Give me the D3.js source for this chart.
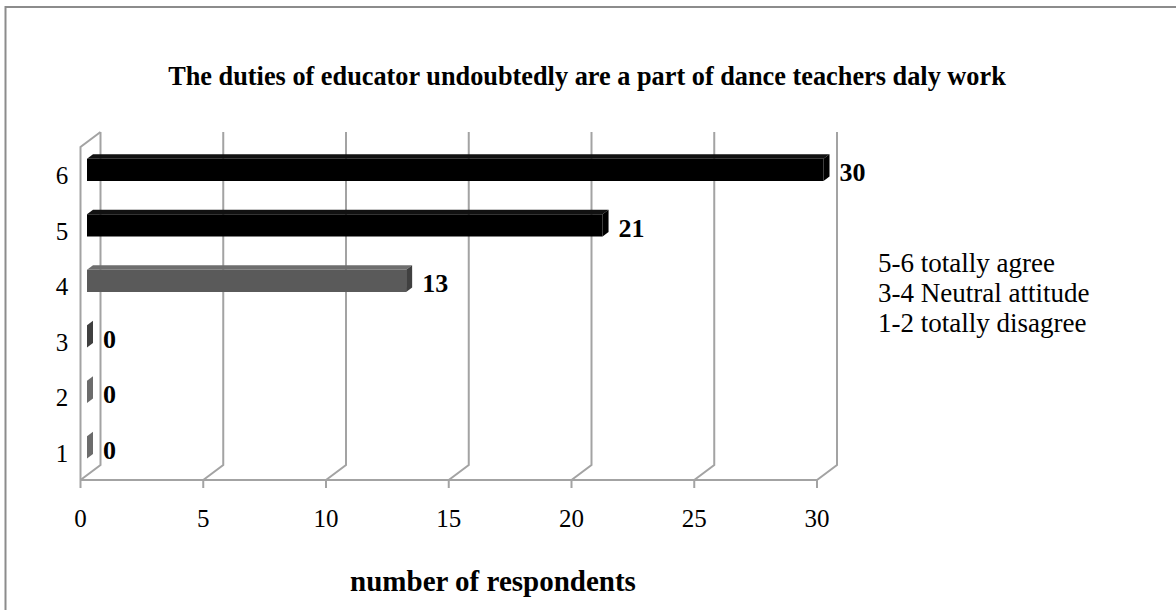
<!DOCTYPE html>
<html>
<head>
<meta charset="utf-8">
<script src="https://cdn.jsdelivr.net/npm/d3@7"></script>
<style>
  html, body { margin: 0; padding: 0; background: #fff; }
  svg { display: block; font-family: "Liberation Serif", "Times New Roman", serif; }
</style>
</head>
<body>
<svg id="chart" width="1176" height="610"></svg>
<script>
// ---- data ----
const categories = ["1", "2", "3", "4", "5", "6"];
const values = [0, 0, 0, 13, 21, 30];
const groups = ["disagree", "disagree", "neutral", "neutral", "agree", "agree"];
const xTicks = [0, 5, 10, 15, 20, 25, 30];
const legendLines = ["5-6 totally agree", "3-4 Neutral attitude", "1-2 totally disagree"];
const title = "The duties of educator undoubtedly are a part of dance teachers daly work";
const xTitle = "number of respondents";

// ---- styling ----
const faceColors = {
  agree:    { front: "#000000", top: "#111111", side: "#000000" },
  neutral:  { front: "#5a5a5a", top: "#6e6e6e", side: "#404040" },
  disagree: { front: "#8a8a8a", top: "#9a9a9a", side: "#6c6c6c" }
};
const gridColor = "#a3a3a3";

const svg = d3.select("#chart");

// outer border (only left and top visible in frame)
svg.append("rect").attr("x", 5.5).attr("y", 7).attr("width", 1200).attr("height", 700)
  .attr("fill", "#fff").attr("stroke", "#8c8c8c").attr("stroke-width", 2);

// 3D projection
const DX = 20, DY = -15;
const x = d3.scaleLinear().domain([0, 30]).range([80.5, 817]);
const y = d3.scaleBand().domain(categories.slice().reverse()).range([147, 480])
  .paddingInner(0.6).paddingOuter(0.3);
const yFront = [147, 480];
const P = (xv, yv, d) => [xv + d * DX, yv + d * DY];
const line = d3.line();

// gridlines on back wall + floor diagonals
const gridG = svg.append("g");
xTicks.forEach(t => {
  const xf = x(t);
  const pts = [P(xf, yFront[0], 1), P(xf, yFront[1], 1), P(xf, yFront[1], 0)];
  gridG.append("path").attr("d", line(pts)).attr("fill", "none")
    .attr("stroke", gridColor).attr("stroke-width", 2);
  gridG.append("line").attr("x1", xf).attr("x2", xf).attr("y1", yFront[1]).attr("y2", yFront[1] + 8)
    .attr("stroke", gridColor).attr("stroke-width", 2);
});
gridG.append("path")
  .attr("d", line([P(x(0), yFront[0], 1), P(x(0), yFront[0], 0), P(x(0), yFront[1], 0)]))
  .attr("fill", "none").attr("stroke", gridColor).attr("stroke-width", 2);
gridG.append("line").attr("x1", x(0)).attr("x2", x(30)).attr("y1", yFront[1]).attr("y2", yFront[1])
  .attr("stroke", gridColor).attr("stroke-width", 2);

// bars
const d1 = 0.325, d2 = 0.625;
const barG = svg.append("g");
categories.forEach((c, i) => {
  const v = values[i];
  const col = faceColors[groups[i]];
  const x0 = x(0), x1 = x(v);
  const y0 = y(c), y1 = y(c) + y.bandwidth();
  if (v > 0) {
    barG.append("path").attr("fill", col.front)
      .attr("d", line([P(x0, y0, d1), P(x1, y0, d1), P(x1, y1, d1), P(x0, y1, d1)]) + "Z");
    barG.append("path").attr("fill", col.top)
      .attr("d", line([P(x0, y0, d1), P(x1, y0, d1), P(x1, y0, d2), P(x0, y0, d2)]) + "Z");
  }
  barG.append("path").attr("fill", col.side)
    .attr("d", line([P(x1, y0, d1), P(x1, y0, d2), P(x1, y1, d2), P(x1, y1, d1)]) + "Z");
  const lp = P(x1, y0, d2);
  const cy = P(x1, y0 + y.bandwidth() / 2, d1)[1];
  svg.append("text").attr("x", lp[0] + 10).attr("y", cy + 3)
    .attr("dominant-baseline", "central").attr("font-weight", "bold").attr("font-size", 26)
    .attr("fill", "#000").text(v);
});

// category labels
categories.forEach(c => {
  svg.append("text").attr("x", 62).attr("y", y(c) + y.bandwidth() / 2 + 1)
    .attr("text-anchor", "middle").attr("dominant-baseline", "central")
    .attr("font-size", 25).text(c);
});

// x tick labels
xTicks.forEach(t => {
  svg.append("text").attr("x", x(t)).attr("y", 518)
    .attr("text-anchor", "middle").attr("dominant-baseline", "central")
    .attr("font-size", 25).text(t);
});

// titles
svg.append("text").attr("x", 587).attr("y", 76).attr("text-anchor", "middle")
  .attr("dominant-baseline", "central").attr("font-weight", "bold").attr("font-size", 26.3)
  .text(title);
svg.append("text").attr("x", 493).attr("y", 581).attr("text-anchor", "middle")
  .attr("dominant-baseline", "central").attr("font-weight", "bold").attr("font-size", 29)
  .text(xTitle);

// legend text
legendLines.forEach((t, i) => {
  svg.append("text").attr("x", 878).attr("y", 263 + i * 30)
    .attr("dominant-baseline", "central").attr("font-size", 27).text(t);
});
</script>
</body>
</html>
